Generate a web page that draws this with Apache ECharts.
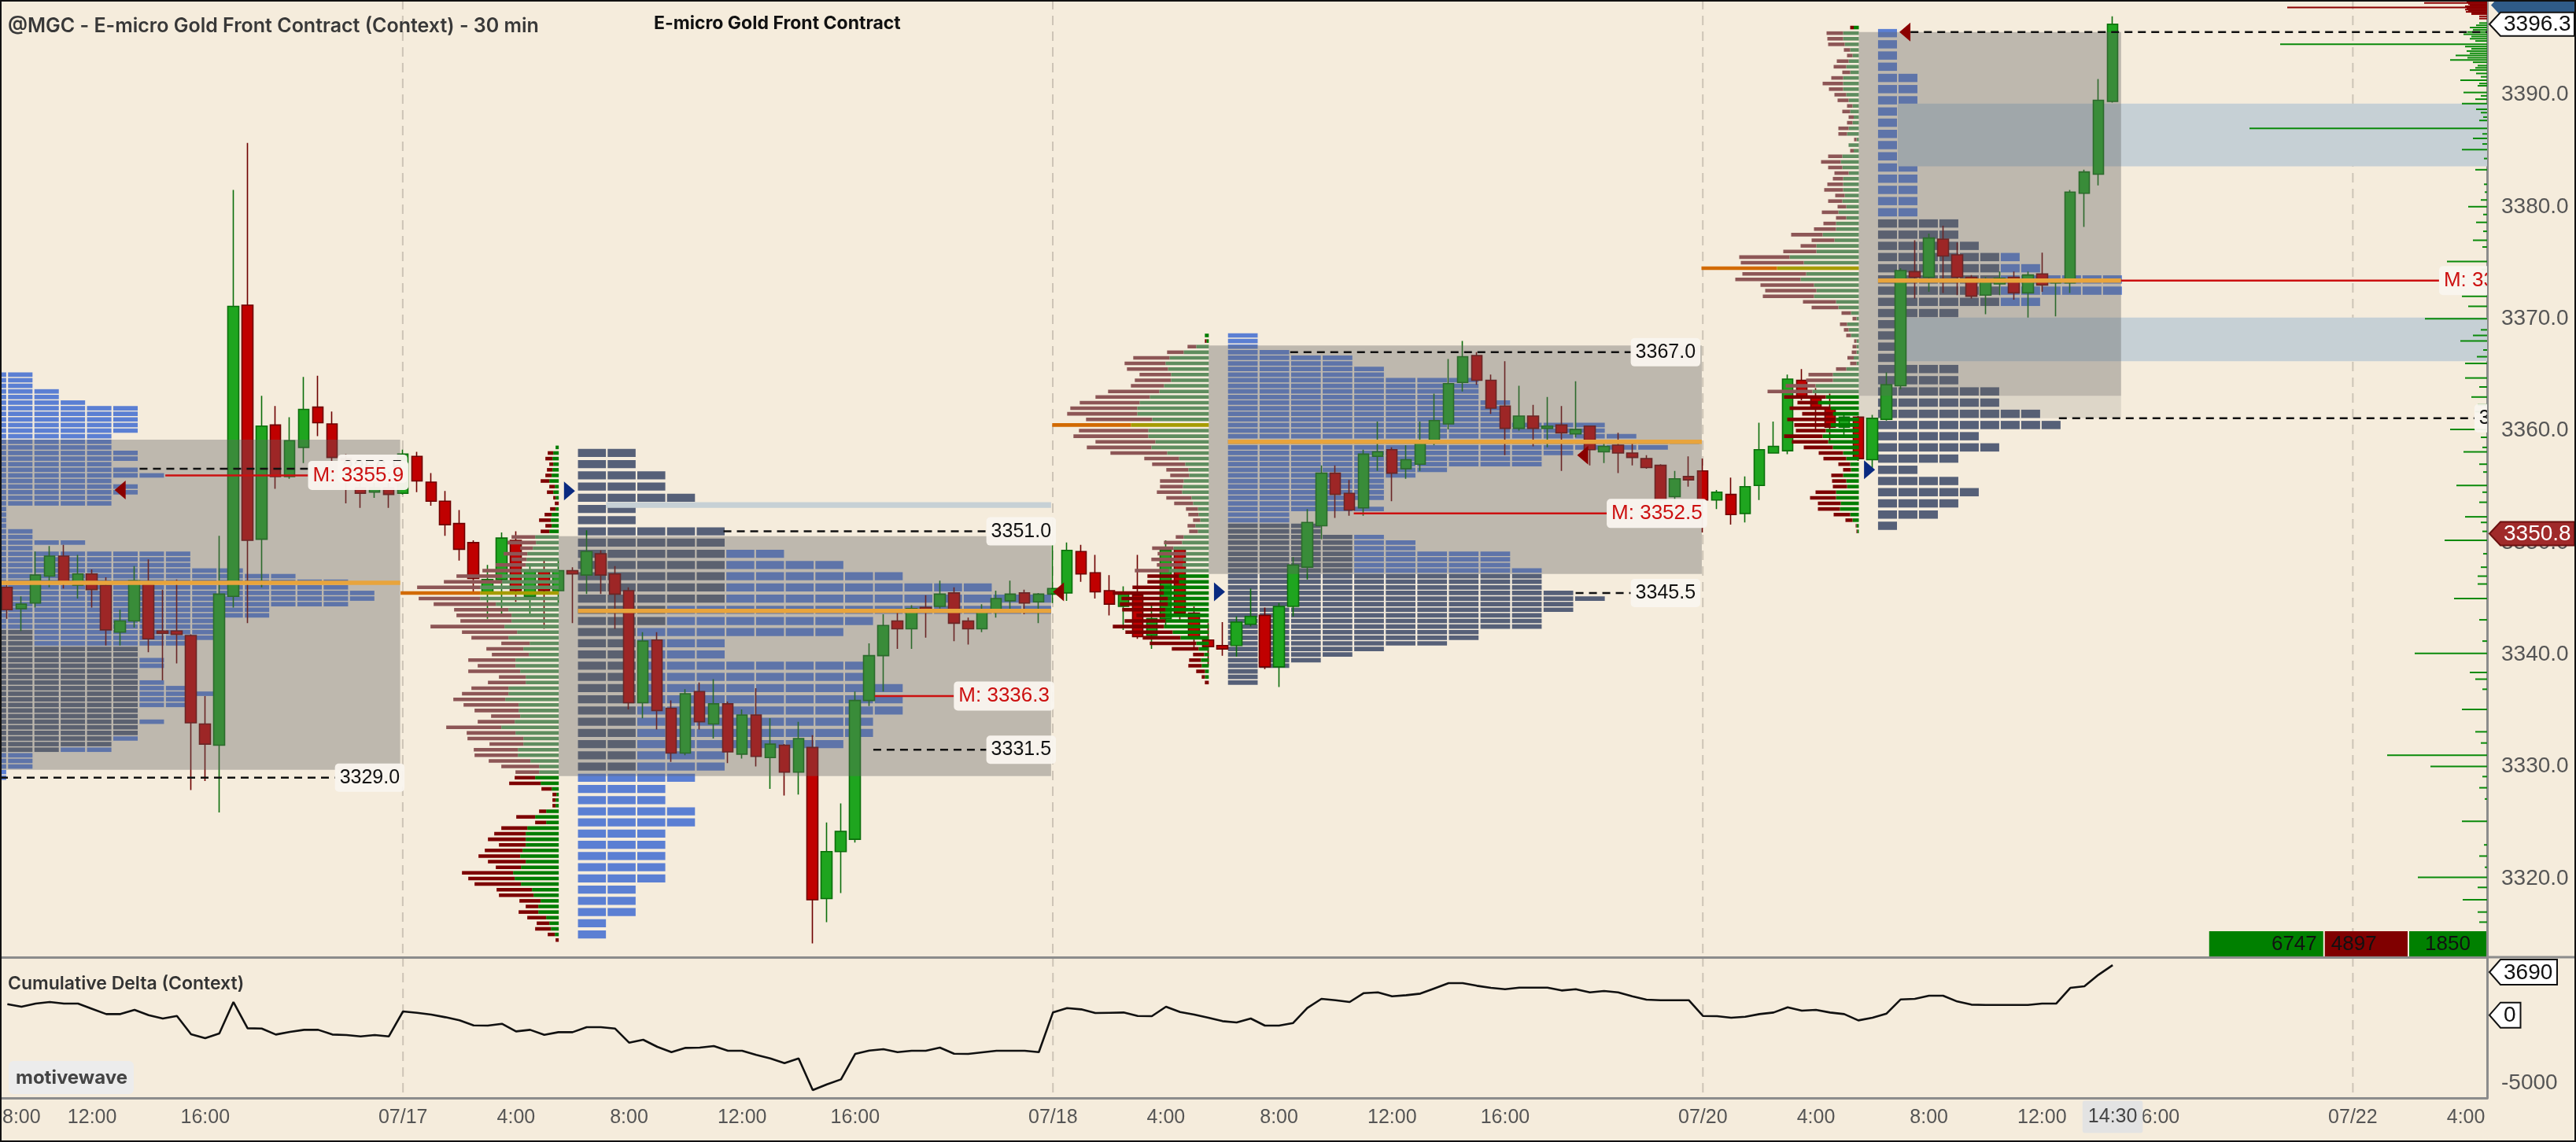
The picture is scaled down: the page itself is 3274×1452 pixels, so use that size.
<!DOCTYPE html>
<html><head><meta charset="utf-8">
<script src="https://cdn.jsdelivr.net/npm/echarts@6/dist/echarts.min.js"></script>
<style>html,body{margin:0;padding:0;background:#f5ecdc;}#c{width:3274px;height:1452px;}</style>
</head><body><div id="c"></div>
<script>
// ---------------- DATA ----------------
const sessionStarts = [[540,16],[1080,46],[1080,46],[1080,46],[1080,22]]; // minute-of-day of first bar, bar count (30 min bars)
const tickIdx  = [1,6,14,28,36,44,52,60,74,82,90,98,106,120,128,136,144,152,166,174];
const tickText = ['8:00','12:00','16:00','07/17','4:00','8:00','12:00','16:00','07/18','4:00','8:00','12:00','16:00','07/20','4:00','8:00','12:00','16:00','07/22','4:00'];
const dayLineIdx = [28,74,120,166];
const currentIdx = 149, currentLabel = '14:30';
const priceTicks = [3320,3330,3340,3350,3360,3370,3380,3390];
const deltaTicks = [-5000];

// open, close, low, high
const candles = [
[3346.0,3344.0,3343.2,3346.2],[3344.1,3344.5,3342.1,3345.2],[3344.6,3347.1,3344.2,3349.2],[3347.0,3348.8,3346.0,3349.7],[3348.8,3346.4,3345.9,3349.8],
[3346.2,3347.2,3345.0,3348.9],[3347.2,3345.8,3344.2,3347.6],[3346.2,3342.2,3340.8,3346.9],[3342.0,3343.0,3340.8,3344.0],[3343.0,3346.6,3342.4,3347.9],
[3346.4,3341.4,3340.2,3348.5],[3342.1,3341.9,3337.7,3345.8],[3342.1,3341.8,3339.2,3346.7],[3341.7,3333.9,3327.9,3341.8],[3333.8,3332.0,3328.7,3336.3],
[3331.9,3345.4,3325.9,3350.6],[3345.2,3371.1,3344.2,3381.5],[3371.2,3350.2,3342.8,3385.7],[3350.3,3360.4,3346.0,3363.1],[3360.5,3355.9,3354.8,3362.2],
[3355.9,3359.1,3355.7,3361.2],[3358.5,3361.9,3357.1,3364.8],[3362.1,3360.7,3359.5,3364.9],[3360.6,3357.6,3357.3,3361.7],[3357.5,3355.8,3353.5,3357.9],
[3354.9,3354.4,3353.1,3356.0],[3354.5,3354.9,3354.0,3356.0],[3354.9,3354.3,3353.1,3356.0],[3354.4,3357.9,3354.3,3358.3],[3357.7,3355.5,3354.5,3358.1],
[3355.4,3353.7,3353.3,3356.2],[3353.7,3351.6,3350.6,3354.6],[3351.7,3349.4,3348.4,3352.9],[3350.0,3346.8,3345.6,3350.2],[3345.6,3346.7,3343.2,3348.0],
[3346.7,3350.4,3343.5,3350.9],[3350.2,3345.7,3344.7,3351.0],[3345.2,3347.4,3343.6,3348.0],[3347.4,3345.7,3342.3,3348.5],[3345.7,3347.5,3344.6,3348.5],
[3347.5,3347.2,3342.8,3347.8],[3347.1,3349.2,3345.4,3351.1],[3349.0,3347.1,3345.4,3349.3],[3347.2,3345.4,3342.3,3347.9],[3345.7,3335.7,3335.1,3346.0],
[3335.7,3341.2,3334.3,3342.0],[3341.3,3335.0,3333.3,3342.0],[3335.2,3331.2,3330.4,3335.9],[3331.2,3336.5,3331.0,3336.9],[3336.7,3334.0,3333.3,3337.5],
[3333.8,3335.6,3332.5,3337.8],[3335.6,3331.3,3330.3,3335.8],[3331.1,3334.6,3330.7,3335.1],[3334.6,3330.9,3330.0,3337.0],[3330.8,3332.0,3328.0,3334.3],
[3331.9,3329.5,3327.4,3332.0],[3329.5,3332.5,3327.5,3334.0],[3331.7,3318.1,3314.2,3332.8],[3318.2,3322.4,3316.1,3325.0],[3322.4,3324.2,3318.7,3326.7],
[3323.5,3335.9,3323.2,3336.7],[3335.9,3339.9,3335.4,3341.0],[3339.9,3342.6,3336.7,3343.6],[3343.0,3342.3,3340.5,3343.8],[3342.3,3344.1,3340.5,3344.4],
[3344.2,3344.0,3341.5,3345.3],[3344.3,3345.4,3344.1,3346.6],[3345.5,3342.8,3341.2,3346.0],[3343.0,3342.3,3340.9,3343.3],[3342.3,3343.8,3342.0,3344.5],
[3343.8,3345.0,3343.3,3345.7],[3344.8,3345.4,3343.9,3346.6],[3345.5,3344.6,3343.6,3345.8],[3344.7,3345.4,3342.8,3345.5],[3345.4,3345.9,3344.6,3349.8],
[3345.5,3349.3,3344.8,3350.0],[3349.2,3347.2,3346.5,3349.8],[3347.3,3345.6,3345.0,3348.9],[3345.7,3344.5,3343.5,3347.1],[3344.3,3345.4,3342.2,3346.1],
[3345.3,3341.6,3341.4,3348.9],[3341.7,3343.2,3340.5,3344.6],[3343.2,3349.3,3342.5,3350.2],[3349.4,3343.7,3342.9,3349.6],[3343.7,3341.4,3340.5,3344.3],
[3341.3,3340.7,3339.0,3342.8],[3340.8,3340.5,3339.9,3342.9],[3340.8,3342.9,3339.8,3343.4],[3342.7,3343.4,3342.5,3345.9],[3343.5,3338.9,3338.7,3344.2],
[3338.9,3344.3,3337.1,3344.6],[3344.3,3348.0,3343.4,3348.7],[3347.8,3351.8,3346.7,3353.0],[3351.5,3356.2,3350.3,3356.9],[3356.2,3354.3,3352.2,3356.9],
[3354.4,3352.9,3352.4,3355.6],[3353.1,3357.9,3352.4,3358.3],[3357.7,3358.1,3356.4,3360.8],[3358.3,3356.2,3353.7,3358.5],[3356.6,3357.4,3355.7,3358.7],
[3357.0,3359.1,3356.4,3360.8],[3359.1,3360.9,3358.7,3363.3],[3360.6,3364.2,3360.1,3366.4],[3364.3,3366.6,3363.5,3368.0],[3366.7,3364.5,3364.1,3367.0],
[3364.5,3362.0,3361.5,3365.0],[3362.2,3360.2,3357.8,3366.2],[3360.2,3361.3,3360.0,3364.0],[3361.3,3360.2,3358.6,3362.3],[3360.2,3360.4,3358.5,3363.0],
[3360.5,3359.8,3356.4,3362.2],[3359.7,3360.1,3359.4,3364.4],[3360.4,3358.3,3356.9,3360.4],[3358.1,3358.6,3357.1,3359.2],[3358.7,3358.0,3356.2,3359.8],
[3358.0,3357.6,3356.9,3358.9],[3357.5,3356.7,3356.6,3357.8],[3356.9,3353.8,3353.6,3357.0],[3354.1,3355.7,3353.3,3356.4],[3355.9,3355.6,3355.0,3357.7],
[3356.4,3353.8,3350.9,3357.5],[3353.8,3354.5,3353.0,3354.7],[3354.3,3352.5,3351.6,3355.8],[3352.6,3355.0,3351.8,3355.9],[3355.1,3358.3,3353.8,3360.7],
[3358.0,3358.6,3358.0,3360.8],[3358.2,3364.6,3357.9,3365.0],[3364.5,3363.0,3362.7,3365.5],[3362.9,3362.0,3360.1,3363.8],[3362.0,3360.3,3359.0,3363.3],
[3360.3,3361.2,3359.5,3361.6],[3361.2,3357.5,3357.3,3361.3],[3357.4,3361.1,3356.6,3361.4],[3361.0,3364.1,3360.9,3365.2],[3364.0,3374.3,3363.7,3374.5],
[3374.2,3373.7,3371.8,3377.0],[3373.7,3377.2,3372.4,3377.6],[3377.1,3375.6,3372.3,3378.3],[3375.7,3373.7,3372.1,3376.8],[3373.7,3372.0,3371.8,3373.9],
[3372.1,3373.3,3370.4,3373.7],[3373.1,3373.6,3372.1,3374.2],[3373.7,3372.3,3371.7,3374.2],[3372.3,3373.9,3370.1,3374.2],[3374.0,3373.0,3372.4,3375.9],
[3373.2,3373.4,3370.2,3373.5],[3373.2,3381.3,3372.3,3381.5],[3381.2,3383.1,3378.2,3383.3],[3382.9,3389.5,3381.9,3391.4],[3389.4,3396.3,3389.3,3397.0]
];

const cumDelta = [813,620,852,968,852,852,465,78,78,388,
1,-251,-57,-1412,-1702,-1354,968,-967,-986,-1431,
-1238,-1083,-1083,-1431,-1470,-1567,-1470,-1567,272,175,
40,-154,-386,-754,-773,-638,-1199,-1083,-1450,-1257,
-1257,-889,-889,-986,-2031,-1818,-2340,-2728,-2418,-2399,
-2283,-2631,-2631,-2940,-3192,-3540,-3192,-5533,-5108,-4740,
-2863,-2612,-2515,-2728,-2631,-2631,-2399,-2844,-2863,-2747,
-2631,-2631,-2631,-2728,194,523,427,156,
175,194,-57,-77,620,233,40,-193,-444,-541,
-251,-773,-773,-580,523,1200,1104,968,1626,1684,
1394,1471,1588,1975,2361,2361,2168,2013,1916,2032,
2032,2032,1820,1916,1684,1781,1684,1394,1142,1104,
1104,1104,-57,-77,-193,-115,78,194,581,330,
388,194,78,-386,-193,117,1162,1200,1433,1433,
1007,775,755,755,755,755,852,852,2013,2129,
2981,3690];

// TPO profiles: top price of first row; per-row block counts (total) and overnight (gray) blocks
const tpoTop = [3365.0, 3358, 3368.5, 3395.5];
const tpoA_total = [2,2,2,3,3,4,6,6,6,6, 6,5,5,5,6,6,5,6,7,5, 6,6,5,5,1,1,1,1,2,2, 4,2,8,8,8,10,12,14,14,15, 15,14,11,11,9,9,9,9,8,6, 6,7,7,6,6,7,8,9,8,8, 6,6,7,6,6,6,5,5,2,2, 2,1,1];
const tpoA_gray  = [0,0,0,0,0,0,0,0,0,0, 0,0,0,0,0,0,0,0,0,0, 0,0,0,0,0,0,0,0,0,0, 0,0,0,0,0,0,0,0,0,0, 0,0,0,0,0,0,2,2,2,6, 6,6,6,6,6,6,6,6,6,6, 6,6,6,6,6,5,5,3,0,0, 0,0,0];
const tpoB_total = [2,2,3,3,4,2,2,5,5,7, 9,11,14,16,16,10,9,5,5,10, 10,11,11,11,10,10,9,5,5,4, 3,3,4,4,3,3,3,3,3,2, 2,2,1,1];
const tpoB_gray  = [2,2,3,3,4,2,2,5,5,5, 5,5,5,5,3,3,2,2,2,2, 2,2,2,2,2,2,2,2,2,0, 0,0,0,0,0,0,0,0,0,0, 0,0,0,0];
const tpoC_total = [1,1,1,2,4,4,5,5,8,8, 8,8,9,9,9,9,12,12,13,15, 14,11,10,10,7,6,5,5,5,5, 4,5,2,2,3,3,5,6,6,9, 9,9,10,10,10,10,11,12,11,11, 10,10,10,8,8,7,5,4,3,2, 1,1,1];
const tpoC_gray  = [0,0,0,0,0,0,0,0,0,0, 0,0,0,0,0,0,0,0,0,0, 0,0,0,0,0,0,0,0,0,0, 0,0,0,0,3,3,4,4,4,4, 4,4,4,10,10,10,11,12,11,11, 10,10,10,8,8,7,5,4,3,2, 1,1,1];
const tpoD_total = [1,1,1,1,2,2,2,1,1,1, 1,1,2,2,2,2,2,4,4,5, 7,8,12,12,8,4,1,1,1,1, 4,4,6,6,8,9,5,6,4,2, 4,5,4,3,1];
const tpoD_gray  = [0,0,0,0,0,0,0,0,0,0, 0,0,0,0,0,0,0,4,4,5, 6,6,6,6,6,4,1,1,1,1, 4,4,6,6,8,9,5,6,4,2, 4,5,4,3,1];

// Volume (buy / sell) profiles at the start of each session, 0.5 steps from top price
const deltaTop = [3358.5, 3368.5, 3396.0];
const deltaB_buy = [4,7,8,7,8,9,12,5,7,4, 0,4,9,10,9,12,30,29,33,40, 41,42,48,72,72,100,100,100,80,64, 60,60,69,53,64,37,45,38,55,55, 49,42,42,64,64,68,51,51,49,56, 73,55,45,45,52,52,36,25,25,30, 23,9,3,4,4,16,30,16,40,42, 42,42,46,49,42,48,58,56,48,34, 32,23,26,26,16,12,10,5,0];
const deltaB_sell = [0,7,9,5,7,8,11,7,8,3, 5,7,9,15,8,11,30,36,16,30, 19,38,49,58,74,80,101,78,79,69, 70,65,94,70,47,36,47,47,60,48, 66,34,48,47,59,66,70,56,37,47, 70,62,71,43,56,55,53,48,30,26, 40,13,5,4,4,9,24,14,33,40, 48,34,48,53,48,32,65,59,59,45, 44,27,16,25,24,16,20,9,4];
const deltaC_buy = [5,3,16,32,50,55,52,48,48,57, 63,75,88,91,91,72,99,77,77,68, 73,53,38,30,26,25,32,33,34,22, 20,14,13,11,17,14,32,34,45,29, 33,34,51,38,38,57,57,52,52,55, 55,55,57,46,36,16,13,6,10,9, 5,5,0];
const deltaC_sell = [0,2,11,21,46,52,52,40,46,42, 65,69,76,85,89,84,100,88,95,76, 82,72,44,42,28,24,30,29,32,32, 24,15,13,9,10,11,10,23,27,36, 40,32,43,40,40,40,65,59,61,55, 37,52,65,60,48,59,34,14,15,17, 11,4,5];
const deltaD_buy = [6.5,20,20,18,11,8,13,16,11,20, 20,20,16,13,8,11,6.5,8,13,15, 3,13,6.5,21,23,21,13,20,20,20, 18,21,16,26,16,29,29,46,31,54, 54,88,70,104,67,74,57,54,57,29, 26,10,3,15,13,10,3,3,3,6.5, 3,16,33,33,55,59,42,52,36,33, 29,36,42,46,39,33,20,16,11,10, 20,16,15,29,29,23,24,11,8,3, 2];
const deltaD_sell = [4.5,21,20,21,8,7,15,16,10,15, 26,18,15,14,7,10,6.5,7,13,11, 3,0,4.5,18,25,18,18,13,20,24, 12,18,11,21,13,16,28,40,29,20, 42,64,80,96,81,83,68,65,65,42, 34,12,5,9,6,6,3,5,6,8, 8,13,31,34,38,57,53,26,52,39, 62,46,38,49,46,37,31,29,15,10, 15,18,18,26,33,29,28,21,9,1, 1];

// Volume-at-price histogram on the right edge
const histBuyPrice = [3396.4,3396.2,3396.0,3395.8,3395.6,3395.4,3395.2,3395.0,3394.8,3394.5,
3394.3,3394.1,3393.9,3393.7,3393.5,3393.3,3393.1,3392.9,3392.6,3392.4,
3392.2,3391.9,3391.6,3391.3,3391.0,3390.8,3390.2,3389.9,3389.6,3389.2,
3388.7,3388.4,3388.0,3387.7,3387.0,3386.5,3386.1,3385.6,3385.1,3384.3,
3383.3,3382.0,3381.3,3380.6,3380.0,3379.3,3378.6,3377.8,3377.0,3376.4,
3375.1,3374.4,3373.8,3373.4,3372.9,3372.0,3371.1,3370.0,3369.0,3368.5,
3368.0,3367.2,3366.6,3366.0,3364.7,3363.9,3363.0,3362.3,3361.7,3360.9,
3360.1,3359.4,3358.5,3358.1,3357.0,3356.3,3355.1,3354.5,3353.6,3352.3,
3351.8,3351.0,3350.2,3349.0,3347.8,3347.0,3346.3,3345.0,3343.1,3341.2,
3340.1,3338.4,3337.8,3336.9,3335.1,3333.1,3332.1,3331.0,3330.0,3329.1,
3328.1,3327.1,3325.1,3323.0,3322.0,3321.0,3320.1,3319.2,3318.1,3317.0,3316.1];
const histBuyVol = [10,14,22,18,25,30,20,22,15,263,
28,20,26,22,40,25,47,18,12,15,
22,14,8,34,10,12,30,8,15,32,
14,8,5,10,302,6,18,6,32,4,
15,4,3,8,24,5,14,5,18,6,
51,7,10,12,5,32,24,79,8,18,
34,5,13,28,28,10,20,12,15,8,
47,8,6,30,10,5,39,6,10,28,
8,6,54,5,8,12,12,42,10,6,
92,22,15,6,32,15,8,127,72,6,
10,3,32,4,10,3,88,12,31,12,10];
const histSellPrice = [3398.4,3398.3,3398.2,3398.1,3398.0,3397.9,3397.8,3397.7,3397.6,3397.5,3397.4,3397.3,3397.2,3397.0,3396.8];
const histSellVol   = [28,26,80,24,22,28,254,26,28,24,27,20,20,10,10];

// Value areas (low/high price) and their time span (bar position)
const vaLow  = [3329.7, 3329.15, 3347.2, 3363.1];
const vaHigh = [3359.2, 3350.57, 3367.6, 3395.6];
const vaFrom = [-3.2, 39.04, 85.04, 131.04];
const vaTo   = [27.82, 73.88, 119.93, 149.6];
const vaExtLow = [3361.1], vaExtHigh = [3363.1], vaExtFrom = [131.04], vaExtTo = [149.6];
const pocPrice = [3346.4, 3343.9, 3359.0, 3373.4];
// value-area edge levels
const edgePrice = [3356.6, 3329.0, 3351.0, 3331.5, 3367.0, 3345.5, 3395.6, 3361.1];
const edgeFrom  = [9.38, -0.5, 50.7, 61.3, 90.8, 111.0, 134.7, 145.2];
const edgeTo    = [21.3, 23.2, 69.3, 69.3, 114.9, 114.9, 176.5, 174.6];
const edgeText  = ['3356.5','3329.0','3351.0','3331.5','3367.0','3345.5','3395.6','3361.1'];
const edgeLabelX = [23.4, 23.2, 69.3, 69.3, 114.9, 114.9, 176.5, 174.6];
// midpoints
const midPrice = [3356.0, 3336.3, 3352.6, 3373.4];
const midText  = ['M: 3355.9','M: 3336.3','M: 3352.5','M: 3373.4'];
const midFrom  = [11.2, 61.4, 95.3, 149.6];
const midTo    = [21.3, 67.0, 113.2, 172.1];
// single-print bands
const bandLow  = [3353.1, 3383.6, 3366.2];
const bandHigh = [3353.6, 3389.2, 3370.1];
const bandFrom = [42.4, 133.8, 133.8];
const bandTo   = [73.88, 175.5, 175.5];
// session markers (dir -1 = left / red, 1 = right / navy)
const markPos   = [8.0, 39.8, 74.4, 85.8, 111.5, 131.8, 134.3];
const markPrice = [3354.7, 3354.6, 3345.6, 3345.6, 3357.8, 3356.5, 3395.6];
const markDir   = [-1, 1, -1, 1, -1, 1, -1];
// summary (buy, sell, delta)
const summaryVals = [6747, 4897, 1850];
// axis tags
const priceTagVals = [3398.0, 3396.3, 3350.8];
const priceTagKind = [2, 0, 1];
const deltaTagVals = [3690, 0];

// ---------------- LAYOUT / STYLE ----------------
const NBARS = 176, XMAX = NBARS - 0.5, VOL2BAR = 1/17.96;
const tpoLayout = [
  {start:-1.79, pitch:1.861, width:1.73, step:0.5, fill:0.8},
  {start:40.4,  pitch:2.1,   width:1.98, step:1,   fill:0.72},
  {start:86.4,  pitch:2.233, width:2.1,  step:0.5, fill:0.8},
  {start:132.4, pitch:1.447, width:1.34, step:1,   fill:0.74}
];
const C = {
  bg:'#f5ecdc', blue:'#5b7fd3', gray:'#566078', box:'rgba(100,100,100,0.38)', boxLight:'rgba(100,100,100,0.16)', band:'#c6d0d5',
  buy:'#007d00', sell:'#7d0000', buyMuted:'#5f8d5f', sellMuted:'#8d5656', pocSell:'#d26a00', pocBuy:'#a69c00',
  poc:'#e8a43c', mid:'#cc1010', dash:'#111111', axis:'#8c8c8c', day:'#cdc4b6'
};
const FONT = '"Liberation Sans", Arial, sans-serif';

const cats = [];
sessionStarts.forEach(([m0,n],s)=>{ for(let k=0;k<n;k++){ const m=(m0+30*k)%1440; cats.push('s'+s+' '+Math.floor(m/60)+':'+String(m%60).padStart(2,'0')); } });

function mkTpo(p, totals, grays){ const L=tpoLayout[p]; return totals.map((t,i)=>[L.start, tpoTop[p]-i*L.step, t, grays[i], p]); }
const tpoData = [].concat(mkTpo(0,tpoA_total,tpoA_gray), mkTpo(1,tpoB_total,tpoB_gray), mkTpo(2,tpoC_total,tpoC_gray), mkTpo(3,tpoD_total,tpoD_gray));
function mkDelta(s, top, g, r){ let best=0; g.forEach((v,i)=>{ if(v+r[i] > g[best]+r[best]) best=i; }); return g.map((v,i)=>[vaFrom[s], top-i*0.5, v, r[i], s, i===best?1:0]); }
const deltaData = [].concat(mkDelta(1,deltaTop[0],deltaB_buy,deltaB_sell), mkDelta(2,deltaTop[1],deltaC_buy,deltaC_sell), mkDelta(3,deltaTop[2],deltaD_buy,deltaD_sell));
const histData = histBuyPrice.map((p,i)=>[XMAX, p, histBuyVol[i], 0]).concat(histSellPrice.map((p,i)=>[XMAX, p, histSellVol[i], 1]));
const boxData = bandLow.map((lo,i)=>[bandFrom[i], lo, bandTo[i], bandHigh[i], 0])
  .concat(vaLow.map((lo,i)=>[vaFrom[i], lo, vaTo[i], vaHigh[i], 1]))
  .concat(vaExtLow.map((lo,i)=>[vaExtFrom[i], lo, vaExtTo[i], vaExtHigh[i], 2]));
const lineData = pocPrice.map((p,i)=>[tpoLayout[i].start, p, vaTo[i], 0])
  .concat(edgePrice.map((p,i)=>[edgeFrom[i], p, edgeTo[i], 1]))
  .concat(midPrice.map((p,i)=>[midFrom[i], p, midTo[i], 2]));
const labelData = edgePrice.map((p,i)=>[edgeLabelX[i], p, i, 1]).concat(midPrice.map((p,i)=>[midTo[i], p, i, 2]));
const markData = markPos.map((v,i)=>[v, markPrice[i], markDir[i]]);

function renderTPO(params, api){
  const L = tpoLayout[api.value(4)], price=api.value(1), total=api.value(2), gray=api.value(3);
  const h = L.step*L.fill/2;
  const yT = api.coord([0, price+h])[1], yB = api.coord([0, price-h])[1];
  const ch = [];
  for (let k=0;k<total;k++){
    const a = L.start + k*L.pitch;
    const x0 = api.coord([a, price])[0], x1 = api.coord([a+L.width, price])[0];
    ch.push({type:'rect', shape:{x:x0, y:yT, width:x1-x0, height:yB-yT}, style:{fill: k<gray ? C.gray : C.blue}});
  }
  return {type:'group', children:ch};
}
function renderDelta(params, api){
  const edge=api.value(0), price=api.value(1), g=api.value(2), r=api.value(3), s=api.value(4), poc=api.value(5);
  const muted = price <= vaHigh[s] && price >= vaLow[s];
  const hh = 0.5*0.64/2;
  const yT = api.coord([0, price+hh])[1], yB = api.coord([0, price-hh])[1];
  const xe = api.coord([edge, price])[0];
  const xg = api.coord([edge - g*VOL2BAR, price])[0];
  const xr = api.coord([edge - (g+r)*VOL2BAR, price])[0];
  return {type:'group', children:[
    {type:'rect', shape:{x:xg, y:yT, width:xe-xg, height:yB-yT}, style:{fill: poc?C.pocBuy:(muted?C.buyMuted:C.buy)}},
    {type:'rect', shape:{x:xr, y:yT, width:xg-xr, height:yB-yT}, style:{fill: poc?C.pocSell:(muted?C.sellMuted:C.sell)}}
  ]};
}
function renderHist(params, api){
  const price=api.value(1), vol=api.value(2), side=api.value(3);
  const y = api.coord([0, price])[1];
  const x1 = api.coord([XMAX, price])[0], x0 = api.coord([XMAX - vol*VOL2BAR, price])[0];
  return {type:'line', shape:{x1:x0, y1:y, x2:x1, y2:y}, style:{stroke: side? '#8b0000' : '#0a8a0a', lineWidth:2}};
}
function renderBox(params, api){
  const p0 = api.coord([api.value(0), api.value(3)]), p1 = api.coord([api.value(2), api.value(1)]);
  const kind = api.value(4);
  return {type:'rect', shape:{x:p0[0], y:p0[1], width:p1[0]-p0[0], height:p1[1]-p0[1]}, style:{fill: kind===0?C.band:(kind===1?C.box:C.boxLight)}};
}
function renderLine(params, api){
  const kind = api.value(3);
  const p0 = api.coord([api.value(0), api.value(1)]), p1 = api.coord([api.value(2), api.value(1)]);
  const st = kind===0 ? {stroke:C.poc, lineWidth:5.5} : kind===1 ? {stroke:C.dash, lineWidth:2.5, lineDash:[10,7]} : {stroke:C.mid, lineWidth:2.5};
  return {type:'line', shape:{x1:p0[0], y1:p0[1], x2:p1[0], y2:p1[1]}, style:st};
}
function renderLabel(params, api){
  const kind = api.value(3), idx = api.value(2);
  const pt = api.coord([api.value(0), api.value(1)]);
  const isMid = kind===2;
  return {type:'text', x:pt[0], y:pt[1], style:{
    text: isMid ? midText[idx] : edgeText[idx], fill: isMid ? C.mid : '#111',
    font: (isMid?'26px ':'25px ') + FONT, align:'left', verticalAlign:'middle',
    backgroundColor:'rgba(249,245,238,0.96)', padding:[6,6,5,6], borderRadius:5}};
}
function renderMark(params, api){
  const pt = api.coord([api.value(0), api.value(1)]), d = api.value(2);
  const w=14, h=24;
  const pts = d<0 ? [[pt[0]-w/2,pt[1]],[pt[0]+w/2,pt[1]-h/2],[pt[0]+w/2,pt[1]+h/2]] : [[pt[0]+w/2,pt[1]],[pt[0]-w/2,pt[1]-h/2],[pt[0]-w/2,pt[1]+h/2]];
  return {type:'polygon', shape:{points:pts}, style:{fill: d<0 ? '#8b0000' : '#0a2a80'}};
}
const SUM_SCALE = 145/6747;
function renderSummary(params, api){
  const i = api.value(0), cs = params.coordSys;
  const widths = summaryVals.map(v=>Math.max(v*SUM_SCALE, 98));
  let xr = cs.x + cs.width - 1;
  for (let k=summaryVals.length-1;k>i;k--) xr -= widths[k] + 2;
  const x0 = xr - widths[i], yB = cs.y + cs.height - 1, yT = yB - 32;
  const txt = {text:String(summaryVals[i]), fill:'#111', font:'26px '+FONT, verticalAlign:'middle',
    align: i===0?'right':(i===1?'left':'center')};
  const tx = i===0 ? xr-8 : (i===1 ? x0+8 : (x0+xr)/2);
  return {type:'group', children:[
    {type:'rect', shape:{x:x0, y:yT, width:xr-x0, height:yB-yT}, style:{fill: i===1 ? '#800000' : '#008000'}},
    {type:'text', x:tx, y:(yT+yB)/2+1, style:txt}
  ]};
}
function tagShape(x, y, w, h, fill, stroke, text, color){
  const pts = [[x,y],[x+14,y-h/2],[x+w,y-h/2],[x+w,y+h/2],[x+14,y+h/2]];
  const ch = [{type:'polygon', shape:{points:pts}, style:{fill:fill, stroke:stroke, lineWidth:stroke?2:0}}];
  if (text) ch.push({type:'text', x:x+18, y:y+1, style:{text:text, fill:color, font:'28px '+FONT, verticalAlign:'middle', align:'left'}});
  return {type:'group', children:ch};
}
function renderPriceTag(params, api){
  const v = api.value(1), kind = api.value(2), cs = params.coordSys;
  let y = api.coord([0, v])[1];
  const h = 30, x = cs.x + cs.width + 3;
  if (kind===2) return tagShape(x+2, y, 112, h, '#2f5b88', null, null, null);
  y = Math.max(cs.y + h/2 + 2, Math.min(cs.y + cs.height - h/2 - 2, y));
  if (kind===0) return tagShape(x, y, 108, h, '#ffffff', '#111', v.toFixed(1), '#111');
  return tagShape(x, y, 108, h, '#a02a2a', '#6a1010', v.toFixed(1), '#ffffff');
}
function renderDeltaTag(params, api){
  const v = api.value(1), cs = params.coordSys;
  let y = api.coord([currentIdx, v])[1];
  const h = 32, x = cs.x + cs.width + 3;
  y = Math.max(cs.y + h/2 + 3, Math.min(cs.y + cs.height - h/2 - 2, y));
  const t = String(v);
  return tagShape(x, y, 24 + t.length*15.5, h, '#ffffff', '#111', t, '#111');
}
function renderDayLine(params, api){
  const cs = params.coordSys, x = api.coord([api.value(0), 0])[0];
  return {type:'line', shape:{x1:x, y1:cs.y, x2:x, y2:cs.y+cs.height}, style:{stroke:C.day, lineWidth:2, lineDash:[12,8]}};
}
function renderCurrentLabel(params, api){
  const cs = params.coordSys, x = api.coord([api.value(0), 0])[0];
  return {type:'text', x:x, y:cs.y+cs.height+24, style:{text:currentLabel, fill:'#444', font:'25px '+FONT, align:'center', verticalAlign:'middle',
    backgroundColor:'#e3e3e3', padding:[9,7,7,7], borderRadius:3}};
}

const chart = echarts.init(document.getElementById('c'), null, {renderer:'canvas', width:3274, height:1452});
const axisLineStyle = {show:true, onZero:false, lineStyle:{color:C.axis, width:3}};
chart.setOption({
  backgroundColor: C.bg,
  animation: false,
  grid: [{left:0, top:0, width:3161, height:1217}, {left:0, top:1217, width:3161, height:179}],
  xAxis: [
    {type:'category', gridIndex:0, position:'bottom', data:cats, boundaryGap:true, axisLine:axisLineStyle, axisTick:{show:false}, axisLabel:{show:false}, splitLine:{show:false}},
    {type:'value', gridIndex:0, min:-0.5, max:XMAX, show:false},
    {type:'category', gridIndex:1, position:'bottom', data:cats, boundaryGap:true, axisLine:axisLineStyle, axisTick:{show:false}, splitLine:{show:false},
     axisLabel:{show:true, interval:(i)=>tickIdx.indexOf(i)>=0, formatter:(v,i)=>{const k=tickIdx.indexOf(i); return k>=0?tickText[k]:'';}, color:'#555', fontSize:25, fontFamily:FONT, margin:13}}
  ],
  yAxis: [
    {type:'value', gridIndex:0, position:'right', min:3312.97, max:3398.46, axisLine:axisLineStyle, axisTick:{show:false}, splitLine:{show:false},
     axisLabel:{customValues:priceTicks, formatter:(v)=>Number(v).toFixed(1), color:'#555', fontSize:28, fontFamily:FONT, margin:18}},
    {type:'value', gridIndex:1, position:'right', min:-6111, max:4277, axisLine:axisLineStyle, axisTick:{show:false}, splitLine:{show:false},
     axisLabel:{customValues:deltaTicks, formatter:(v)=>String(v), color:'#555', fontSize:28, fontFamily:FONT, margin:18}}
  ],
  series: [
    {type:'custom', name:'dayLines', xAxisIndex:1, yAxisIndex:0, z:0, silent:true, data:dayLineIdx.map(i=>[i,0]), renderItem:renderDayLine},
    {type:'custom', name:'dayLines2', xAxisIndex:2, yAxisIndex:1, z:0, silent:true, data:dayLineIdx.map(i=>[i,0]), renderItem:renderDayLine},
    {type:'custom', name:'TPO', xAxisIndex:1, yAxisIndex:0, z:1, clip:true, silent:true, data:tpoData, renderItem:renderTPO},
    {type:'custom', name:'bands', xAxisIndex:1, yAxisIndex:0, z:2, clip:true, silent:true, data:boxData.filter(d=>d[4]===0), renderItem:renderBox},
    {type:'candlestick', name:'MGC', xAxisIndex:0, yAxisIndex:0, z:3, barWidth:14, data:candles,
     itemStyle:{color:'#1fa51f', color0:'#c00000', borderColor:'#0b6e0b', borderColor0:'#6e0000', borderWidth:1.6}},
    {type:'custom', name:'valueAreas', xAxisIndex:1, yAxisIndex:0, z:4, clip:true, silent:true, data:boxData.filter(d=>d[4]!==0), renderItem:renderBox},
    {type:'custom', name:'volumeProfiles', xAxisIndex:1, yAxisIndex:0, z:5, clip:true, silent:true, data:deltaData, renderItem:renderDelta},
    {type:'custom', name:'volumeAtPrice', xAxisIndex:1, yAxisIndex:0, z:5, clip:true, silent:true, data:histData, renderItem:renderHist},
    {type:'custom', name:'levels', xAxisIndex:1, yAxisIndex:0, z:6, clip:true, silent:true, data:lineData, renderItem:renderLine},
    {type:'custom', name:'markers', xAxisIndex:1, yAxisIndex:0, z:7, clip:true, silent:true, data:markData, renderItem:renderMark},
    {type:'custom', name:'labels', xAxisIndex:1, yAxisIndex:0, z:7, clip:true, silent:true, data:labelData, renderItem:renderLabel},
    {type:'custom', name:'summary', xAxisIndex:1, yAxisIndex:0, z:8, clip:false, silent:true, data:summaryVals.map((v,i)=>[i,v]), renderItem:renderSummary},
    {type:'custom', name:'priceTags', xAxisIndex:1, yAxisIndex:0, z:10, clip:false, silent:true, data:priceTagVals.map((v,i)=>[0,v,priceTagKind[i]]), renderItem:renderPriceTag},
    {type:'line', name:'Cumulative Delta', xAxisIndex:2, yAxisIndex:1, z:3, data:cumDelta, symbol:'none', lineStyle:{color:'#111', width:2.6}},
    {type:'custom', name:'deltaTags', xAxisIndex:2, yAxisIndex:1, z:10, clip:false, silent:true, data:deltaTagVals.map(v=>[currentIdx,v]), renderItem:renderDeltaTag},
    {type:'custom', name:'currentTime', xAxisIndex:2, yAxisIndex:1, z:10, clip:false, silent:true, data:[[currentIdx,0]], renderItem:renderCurrentLabel}
  ],
  graphic: [
    {type:'text', x:10, y:33, z:20, style:{text:'@MGC - E-micro Gold Front Contract (Context) - 30 min', fill:'#383838', font:'600 25px Inter, "Noto Sans", sans-serif', verticalAlign:'middle'}},
    {type:'text', x:831, y:30, z:20, style:{text:'E-micro Gold Front Contract', fill:'#111', font:'700 23px Inter, "Noto Sans", sans-serif', verticalAlign:'middle'}},
    {type:'text', x:10, y:1251, z:20, style:{text:'Cumulative Delta (Context)', fill:'#333', font:'600 23px Inter, "Noto Sans", sans-serif', verticalAlign:'middle'}},
    {type:'rect', x:11, y:1349, z:20, shape:{width:159, height:42, r:6}, style:{fill:'#ececec'}},
    {type:'text', x:20, y:1371, z:21, style:{text:'motivewave', fill:'#444', font:'700 24px Inter, "Noto Sans", sans-serif', verticalAlign:'middle'}},
    {type:'line', z:20, shape:{x1:3161, y1:1217, x2:3274, y2:1217}, style:{stroke:C.axis, lineWidth:3}},
    {type:'rect', z:30, shape:{x:1, y:1, width:3272, height:1450}, style:{fill:'none', stroke:'#111', lineWidth:2}}
  ]
});
</script></body></html>
